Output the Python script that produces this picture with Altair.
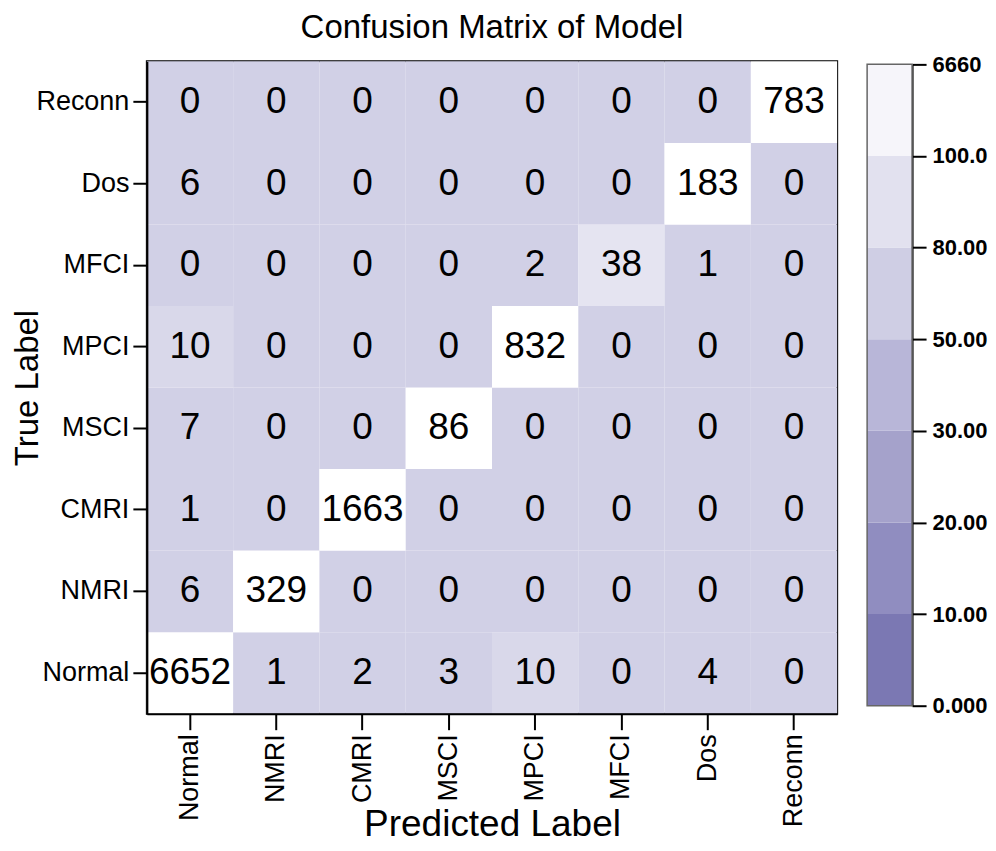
import altair as alt
import pandas as pd

classes = ["Normal", "NMRI", "CMRI", "MSCI", "MPCI", "MFCI", "Dos", "Reconn"]
matrix = [
    [6652, 1, 2, 3, 10, 0, 4, 0],    # Normal
    [6, 329, 0, 0, 0, 0, 0, 0],      # NMRI
    [1, 0, 1663, 0, 0, 0, 0, 0],     # CMRI
    [7, 0, 0, 86, 0, 0, 0, 0],       # MSCI
    [10, 0, 0, 0, 832, 0, 0, 0],     # MPCI
    [0, 0, 0, 0, 2, 38, 1, 0],       # MFCI
    [6, 0, 0, 0, 0, 0, 183, 0],      # Dos
    [0, 0, 0, 0, 0, 0, 0, 783],      # Reconn
]
cb_labels = ["0.000", "10.00", "20.00", "30.00", "50.00", "80.00", "100.0", "6660"]
cb_colors = ["#7b78b3", "#908dc0", "#a5a2cb", "#b8b6d8", "#cfcee4", "#e2e1ef", "#f6f5fa"]
cell_thresholds = [10, 30, 80]
cell_colors = ["#d1d0e6", "#d9d8ea", "#e5e4f1", "#ffffff"]

FONT = "Liberation Sans"

rows = []
for i, t in enumerate(classes):
    for j, p in enumerate(classes):
        rows.append({"true": t, "pred": p, "count": matrix[i][j]})
df = pd.DataFrame(rows)

base = alt.Chart(df).encode(
    x=alt.X("pred:N", sort=classes, scale=alt.Scale(paddingInner=0, paddingOuter=0),
            axis=alt.Axis(title="Predicted Label", labelAngle=270, labelFontSize=27,
                          labelFont=FONT, labelColor="black", titleFont=FONT,
                          titleFontSize=37, titleFontWeight="normal", titleColor="black",
                          tickSize=16, tickWidth=2, tickColor="black", domainColor="black",
                          domainWidth=2, labelPadding=4, titleY=93)),
    y=alt.Y("true:N", sort=classes[::-1], scale=alt.Scale(paddingInner=0, paddingOuter=0),
            axis=alt.Axis(title="True Label", labelFontSize=27, labelFont=FONT,
                          labelColor="black", titleFont=FONT, titleFontSize=33,
                          titleFontWeight="normal", titleColor="black", tickSize=14,
                          tickWidth=2, tickColor="black", domainColor="black",
                          domainWidth=2, labelPadding=4, titleX=-119,
                          titleBaseline="middle")),
)

rects = base.mark_rect().encode(
    color=alt.Color("count:Q", legend=None,
                    scale=alt.Scale(type="threshold", domain=cell_thresholds, range=cell_colors))
)
texts = base.mark_text(fontSize=37, font=FONT, color="black").encode(text="count:Q")

heat = (rects + texts).properties(
    width=691, height=653,
    view=alt.ViewBackground(stroke="black", strokeWidth=2),
    title=alt.TitleParams("Confusion Matrix of Model", font=FONT, fontSize=33,
                          fontWeight="normal", color="black", offset=16),
)

cb_df = pd.DataFrame({
    "lo": list(range(len(cb_colors))),
    "hi": list(range(1, len(cb_colors) + 1)),
    "band": [f"b{k}" for k in range(len(cb_colors))],
})
label_expr = "[" + ",".join(f"'{s}'" for s in cb_labels) + "][datum.value]"

ysc = alt.Scale(domain=[0, 7], range=[645, 3], nice=False)
cb_bands = alt.Chart(cb_df).mark_rect().encode(
    x=alt.value(0), x2=alt.value(45),
    y=alt.Y("lo:Q", scale=ysc,
            axis=alt.Axis(orient="right", values=list(range(8)), labelExpr=label_expr,
                          title=None, labelFontSize=22, labelFontWeight="bold",
                          labelFont=FONT, labelColor="black", tickSize=14, tickWidth=2,
                          tickColor="black", domainColor="black", domainWidth=2,
                          labelPadding=6, grid=False)),
    y2="hi:Q",
    color=alt.Color("band:N", legend=None,
                    scale=alt.Scale(domain=[f"b{k}" for k in range(len(cb_colors))],
                                    range=cb_colors)),
)
cb_frame = alt.Chart(cb_df).mark_rect(fill=None, stroke="#666666", strokeWidth=1.5).encode(
    x=alt.value(0), x2=alt.value(45),
    y=alt.Y("min(lo):Q", scale=ysc),
    y2="max(hi):Q",
)
colorbar = (cb_bands + cb_frame).properties(width=45, height=653)

chart = alt.hconcat(heat, colorbar, spacing=28).properties(
    padding={"left": 3, "top": 3, "right": 0, "bottom": 0}
).configure_view(stroke=None)

chart.save("out.html", embed_options={"renderer": "svg", "actions": False})
